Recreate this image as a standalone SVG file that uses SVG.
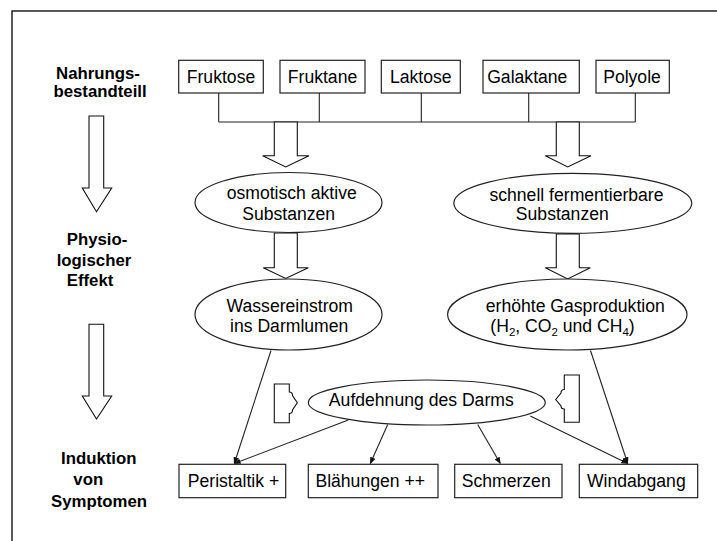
<svg xmlns="http://www.w3.org/2000/svg" width="717" height="541" viewBox="0 0 717 541">
<defs>
<style>
.t{font-family:"Liberation Sans",Arial,sans-serif;font-size:17.6px;fill:#000}
.lb{font-family:"Liberation Sans",Arial,sans-serif;font-size:16.8px;font-weight:bold;fill:#000}
.box{fill:#fff;stroke:#222;stroke-width:1.2}
.el{fill:#fff;stroke:#222;stroke-width:1.2}
.ln{fill:none;stroke:#222;stroke-width:1.1}
.ba{fill:#fff;stroke:#111;stroke-width:1.1;stroke-linejoin:miter}
.ar{fill:none;stroke:#222;stroke-width:1.1;marker-end:url(#ah)}
</style>
<marker id="ah" viewBox="0 0 10 10" refX="9" refY="5" markerWidth="7" markerHeight="7" markerUnits="userSpaceOnUse" orient="auto">
<path d="M0,1 L10,5 L0,9 Z" fill="#111"/>
</marker>
</defs>
<rect x="0" y="0" width="717" height="541" fill="#fff"/>
<rect x="12" y="11" width="720" height="545" fill="none" stroke="#000" stroke-width="1.3"/>

<g id="labels">
<text class="lb" x="98" y="79" text-anchor="middle">Nahrungs-</text>
<text class="lb" x="100" y="97" text-anchor="middle">bestandteill</text>
<text class="lb" x="66.7" y="245">Physio-</text>
<text class="lb" x="56.7" y="265.7">logischer</text>
<text class="lb" x="66.7" y="285.7">Effekt</text>
<text class="lb" x="61" y="464">Induktion</text>
<text class="lb" x="73.3" y="485">von</text>
<text class="lb" x="51" y="506.7">Symptomen</text>
</g>

<g id="side-arrows">
<path class="ba" d="M89,116 H103.7 V188 H111.7 L96.5,211.7 L82.3,188 H89 Z"/>
<path class="ba" d="M89,324.3 H103.7 V396 H111.7 L96.5,419 L82.3,396 H89 Z"/>
</g>

<g id="connectors">
<path class="ln" d="M218.7,93 V122 M319.3,93 V122 M421.3,93 V122 M528.7,93 V122 M635.3,93 V122 M218.7,122 H635.3"/>
<path class="ba" d="M274.3,122 V155.7 H262.7 L285.7,167 L309,155.7 H297.3 V122 Z"/>
<path class="ba" d="M556.3,122 V155.7 H545.3 L567.7,167 L591,155.7 H579.3 V122 Z"/>
<path class="ba" d="M274.3,233 V267.7 H263.3 L285.7,278.5 L308.3,267.7 H297.3 V233 Z"/>
<path class="ba" d="M556.3,234 V267.7 H545.3 L567.7,279 L590.3,267.7 H579.3 V234 Z"/>
<path class="ba" d="M274.3,384 H289.3 V392 Q292.5,392 292.5,395.5 L297.3,402.7 L292.5,410 Q292.5,413.5 289.3,413.5 V422.7 H274.3 Z"/>
<path class="ba" d="M579.3,375 H564.3 V389.5 Q561,389.5 561,393 L555.7,399.5 L561,406 Q561,409 564.3,409 V422.3 H579.3 Z"/>
<path class="ar" d="M271,350.5 L234.3,463.5"/>
<path class="ar" d="M348.3,420 L234.3,463.5"/>
<path class="ar" d="M387.7,424.5 L370.3,463.5"/>
<path class="ar" d="M477.7,424.5 L500.3,463.5"/>
<path class="ar" d="M530.3,416 L627.7,463.5"/>
<path class="ar" d="M590.5,350.5 L627.7,463.5"/>
</g>

<g id="n-fruktose"><rect class="box" x="178.7" y="60.3" width="84.6" height="32.7"/><text class="t" x="221" y="83.3" text-anchor="middle">Fruktose</text></g>
<g id="n-fruktane"><rect class="box" x="280" y="60.3" width="85" height="32.7"/><text class="t" x="322.5" y="83.3" text-anchor="middle">Fruktane</text></g>
<g id="n-laktose"><rect class="box" x="381.3" y="60.3" width="79" height="32.7"/><text class="t" x="420.8" y="83.3" text-anchor="middle">Laktose</text></g>
<g id="n-galaktane"><rect class="box" x="483" y="60.3" width="96.3" height="32.7"/><text class="t" x="527.3" y="83.3" text-anchor="middle">Galaktane</text></g>
<g id="n-polyole"><rect class="box" x="596" y="60.3" width="73.3" height="32.7"/><text class="t" x="632" y="83.3" text-anchor="middle">Polyole</text></g>

<g id="n-osmotisch"><ellipse class="el" cx="288.5" cy="202.5" rx="93.5" ry="30"/><text class="t" x="291.7" y="199.3" text-anchor="middle">osmotisch aktive</text><text class="t" x="288.7" y="220" text-anchor="middle">Substanzen</text></g>
<g id="n-fermentierbar"><ellipse class="el" cx="572.8" cy="203.3" rx="119" ry="30"/><text class="t" x="576.5" y="200.7" text-anchor="middle">schnell fermentierbare</text><text class="t" x="562.3" y="220" text-anchor="middle">Substanzen</text></g>
<g id="n-wasser"><ellipse class="el" cx="288.5" cy="314.5" rx="93.5" ry="35.5"/><text class="t" x="289.8" y="311.7" text-anchor="middle">Wassereinstrom</text><text class="t" x="289.2" y="331.7" text-anchor="middle">ins Darmlumen</text></g>
<g id="n-gas"><ellipse class="el" cx="567.3" cy="314.5" rx="119.7" ry="35.5"/><text class="t" x="575.3" y="311.7" text-anchor="middle">erhöhte Gasproduktion</text><text class="t" x="490.3" y="331.7">(H<tspan font-size="11.5" dy="4">2</tspan><tspan dy="-4">, CO</tspan><tspan font-size="11.5" dy="4">2</tspan><tspan dy="-4"> und CH</tspan><tspan font-size="11.5" dy="4">4</tspan><tspan dy="-4">)</tspan></text></g>
<g id="n-aufdehnung"><ellipse class="el" cx="426.8" cy="402.5" rx="118.5" ry="22.5"/><text class="t" x="421.3" y="406" text-anchor="middle">Aufdehnung des Darms</text></g>

<g id="n-peristaltik"><rect class="box" x="179" y="464.3" width="106.7" height="33.4"/><text class="t" x="233.5" y="486.7" text-anchor="middle">Peristaltik +</text></g>
<g id="n-blaehungen"><rect class="box" x="308.3" y="464.3" width="129.7" height="33.4"/><text class="t" x="370.2" y="486.7" text-anchor="middle">Blähungen ++</text></g>
<g id="n-schmerzen"><rect class="box" x="454.7" y="464.3" width="107.3" height="33.4"/><text class="t" x="506.2" y="486.7" text-anchor="middle">Schmerzen</text></g>
<g id="n-windabgang"><rect class="box" x="579.3" y="464.3" width="118.4" height="33.4"/><text class="t" x="636.3" y="486.7" text-anchor="middle">Windabgang</text></g>
</svg>
